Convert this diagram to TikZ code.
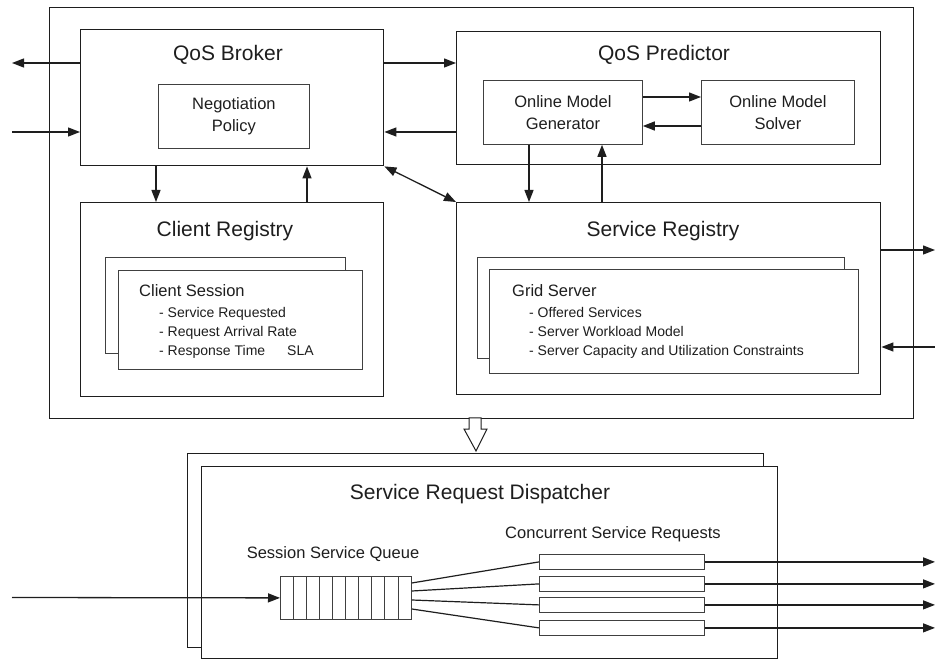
\documentclass[tikz,border=0pt]{standalone}
\usepackage{fontspec}
\setmainfont{Liberation Sans}
\usetikzlibrary{arrows.meta,calc}
\definecolor{ink}{HTML}{1E1E1E}
\begin{document}
\begin{tikzpicture}[x=1pt,y=-1pt,
  bigbox/.style={draw=ink,line width=1.4pt,fill=white,inner sep=0pt,anchor=north west},
  smallbox/.style={draw=ink!85,line width=0.8pt,fill=white,inner sep=0pt,anchor=north west},
  arr/.style={draw=ink,line width=1.3pt,-{Triangle[length=12pt,width=9pt]}},
  arrb/.style={draw=ink,line width=1.3pt,{Triangle[length=12pt,width=9pt]}-{Triangle[length=12pt,width=9pt]}},
  ttl/.style={inner sep=0pt,anchor=base,text=ink,font=\fontsize{21}{24}\selectfont},
  mid/.style={inner sep=0pt,text=ink,font=\fontsize{16.5}{22}\selectfont,align=center},
  hdr/.style={inner sep=0pt,anchor=base west,text=ink,font=\fontsize{16.5}{20}\selectfont},
  itm/.style={inner sep=0pt,anchor=base west,text=ink,font=\fontsize{14}{18}\selectfont},
  lnk/.style={draw=ink,line width=1.2pt}
]
\useasboundingbox (0,0) rectangle (935,660);

% outer frame
\node[bigbox,minimum width=864pt,minimum height=411pt] (outer) at (49,7) {};

% QoS Broker
\node[bigbox,minimum width=303pt,minimum height=136pt] (broker) at (80,29) {};
\node[ttl] (brokerT) at (228,61) {QoS Broker};
\node[smallbox,minimum width=151pt,minimum height=64pt,mid] (neg) at (158,84) {Negotiation\\Policy};

% QoS Predictor
\node[bigbox,minimum width=424pt,minimum height=133pt] (pred) at (456,31) {};
\node[ttl] (predT) at (664,61) {QoS Predictor};
\node[smallbox,minimum width=159pt,minimum height=64pt,mid] (gen) at (483,80) {Online Model\\Generator};
\node[smallbox,minimum width=153pt,minimum height=64pt,mid] (solv) at (701,80) {Online Model\\Solver};

% Client Registry
\node[bigbox,minimum width=303pt,minimum height=194pt] (creg) at (80,202) {};
\node[ttl] (cregT) at (225,237) {Client Registry};
\node[smallbox,minimum width=240pt,minimum height=96pt] (csB) at (105,257) {};
\node[smallbox,minimum width=244pt,minimum height=99pt] (csF) at (118,270) {};
\node[hdr] (cs0) at (139,297) {Client Session};
\node[itm] (cs1) at (159,318) {- Service Requested};
\node[itm] (cs2) at (159,337) {- Request Arrival Rate};
\node[itm] (cs3) at (159,356) {- Response Time};
\node[itm] (cs4) at (287,356) {SLA};

% Service Registry
\node[bigbox,minimum width=424pt,minimum height=192pt] (sreg) at (456,202) {};
\node[ttl] (sregT) at (663,237) {Service Registry};
\node[smallbox,minimum width=367pt,minimum height=101pt] (gsB) at (477,257) {};
\node[smallbox,minimum width=369pt,minimum height=104pt] (gsF) at (489,269) {};
\node[hdr] (gs0) at (512,297) {Grid Server};
\node[itm] (gs1) at (529,318) {- Offered Services};
\node[itm] (gs2) at (529,337) {- Server Workload Model};
\node[itm] (gs3) at (529,356) {- Server Capacity and Utilization Constraints};

% free ends
\coordinate (Lout) at (12,63);
\coordinate (Lin) at (12,132);
\coordinate (cA) at (156,0);
\coordinate (cB) at (307,0);
\coordinate (gA) at (0,97);
\coordinate (gB) at (0,126);
\coordinate (pA) at (529,0);
\coordinate (pB) at (602,0);
\coordinate (Rout) at (935,250);
\coordinate (Rin) at (935,347);
\coordinate (Qin) at (12,597.5);
\coordinate (Rend) at (935,0);

% connectors top part
\draw[arr] (Lout -| broker.west) -- (Lout);
\draw[arr] (Lin) -- (Lin -| broker.west);
\draw[arr] (Lout -| broker.east) -- (Lout -| pred.west);
\draw[arr] (Lin -| pred.west) -- (Lin -| broker.east);
\draw[arr] (cA |- broker.south) -- (cA |- creg.north);
\draw[arr] (cB |- creg.north) -- (cB |- broker.south);
\draw[arrb] (broker.south east) -- (sreg.north west);
\draw[arr] (gA -| gen.east) -- (gA -| solv.west);
\draw[arr] (gB -| solv.west) -- (gB -| gen.east);
\draw[arr] (pA |- gen.south) -- (pA |- sreg.north);
\draw[arr] (pB |- sreg.north) -- (pB |- gen.south);
\draw[arr] (Rout -| sreg.east) -- (Rout);
\draw[arr] (Rin) -- (Rin -| sreg.east);

% Dispatcher
\node[bigbox,minimum width=576pt,minimum height=194pt] (dispB) at (187,453) {};
\node[bigbox,minimum width=576pt,minimum height=192pt] (dispF) at (201,466) {};
\node[ttl] (dispT) at (480,499) {Service Request Dispatcher};
\node[mid,anchor=base] (qT) at (333,558) {Session Service Queue};
\node[mid,anchor=base] (rT) at (613,538) {Concurrent Service Requests};

% hollow arrow between frame and dispatcher
\draw[draw=ink,line width=1pt,fill=white] (469,418) -- (481,418) -- (481,429) -- (487,429) -- (476,451) -- (464,429) -- (469,429) -- cycle;

% queue
\node[smallbox,minimum width=131pt,minimum height=43pt] (q) at (280,576) {};
\foreach \i in {1,...,9} {
  \draw[ink!85,line width=0.8pt] ($(q.north west)+(\i*13.1,0)$) -- ($(q.south west)+(\i*13.1,0)$);
}

% request slots
\node[smallbox,minimum width=165pt,minimum height=15pt] (r1) at (539,554) {};
\node[smallbox,minimum width=165pt,minimum height=15pt] (r2) at (539,576) {};
\node[smallbox,minimum width=165pt,minimum height=15pt] (r3) at (539,597) {};
\node[smallbox,minimum width=165pt,minimum height=15pt] (r4) at (539,620) {};

\draw[lnk] ($(q.north east)+(0,7)$) -- (r1.west);
\draw[lnk] ($(q.north east)+(0,15)$) -- (r2.west);
\draw[lnk] ($(q.north east)+(0,24)$) -- (r3.west);
\draw[lnk] ($(q.north east)+(0,33)$) -- (r4.west);

\draw[arr] (Qin) -- (q.west);
\draw[arr] (r1.east) -- (r1.east -| Rend);
\draw[arr] (r2.east) -- (r2.east -| Rend);
\draw[arr] (r3.east) -- (r3.east -| Rend);
\draw[arr] (r4.east) -- (r4.east -| Rend);
\end{tikzpicture}
\end{document}
